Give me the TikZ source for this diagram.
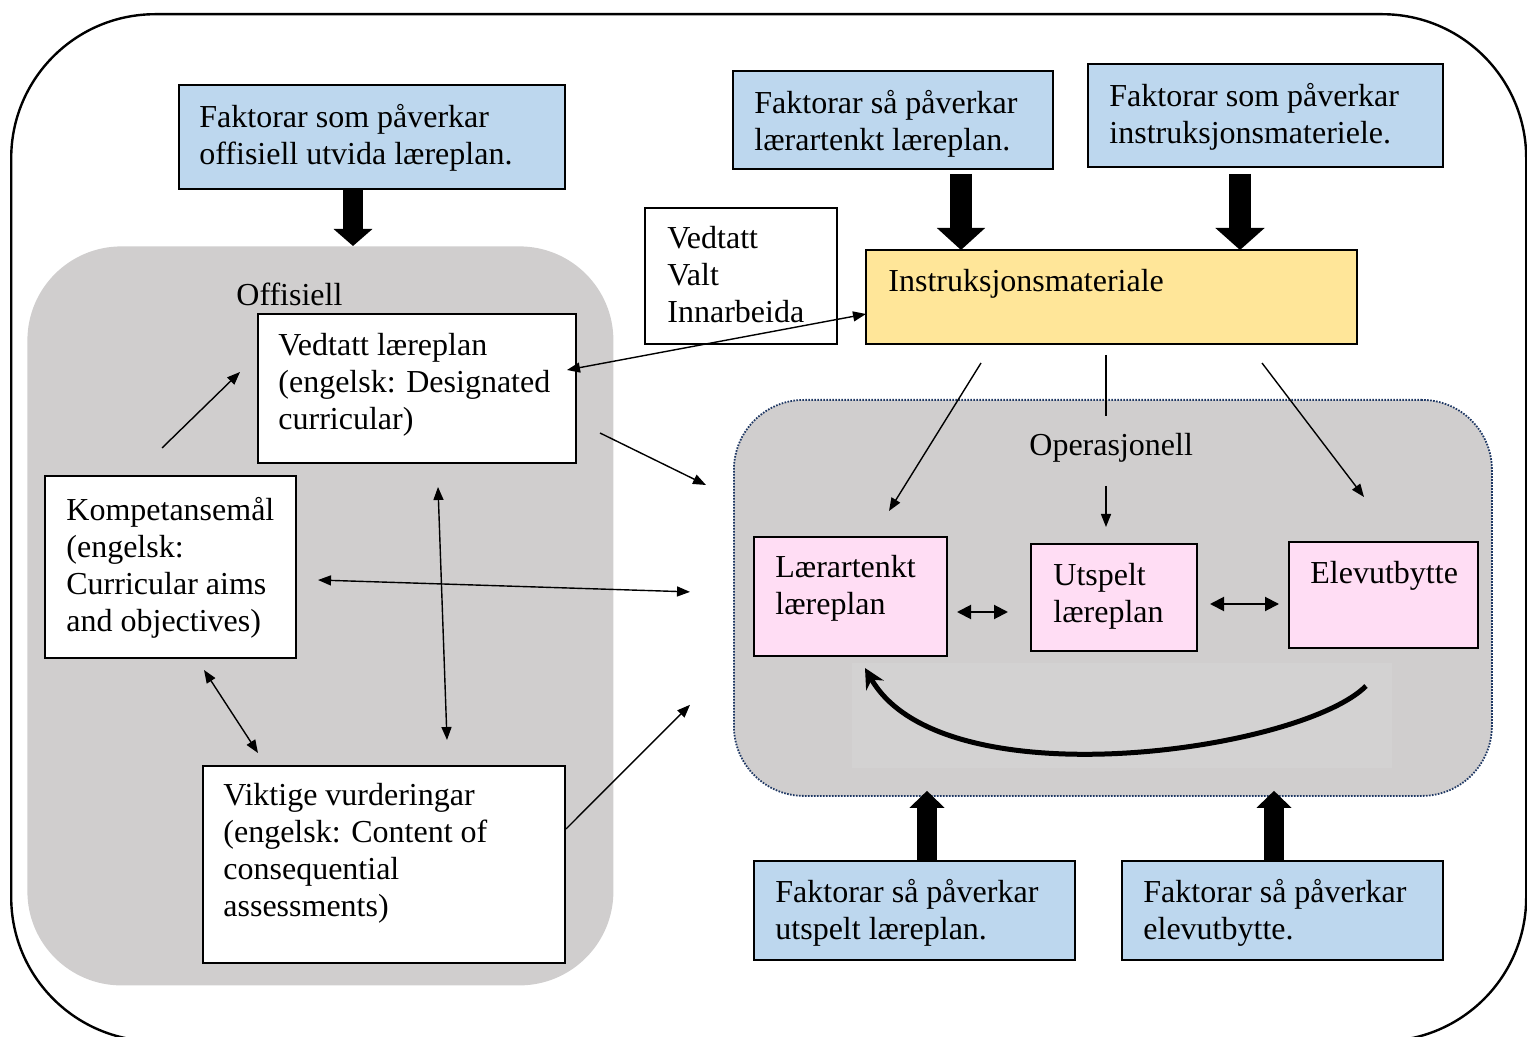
\documentclass[tikz,border=0pt]{standalone}
\usepackage{fontspec}
\setmainfont{Liberation Serif}
\usetikzlibrary{arrows.meta,calc}
\definecolor{bluefill}{HTML}{BDD7EE}
\definecolor{yellowfill}{HTML}{FFE699}
\definecolor{pinkfill}{HTML}{FFDDF4}
\definecolor{grayfill}{HTML}{D0CECE}
\definecolor{pastefill}{HTML}{D3D2D2}
\definecolor{dotblue}{HTML}{1F3864}
\begin{document}
\begin{tikzpicture}[x=0.5pt,y=-0.5pt,
  font=\fontsize{16}{18.5}\selectfont,
  box/.style={draw=black, line width=0.6pt, anchor=north west, inner sep=0pt, outer sep=0pt},
  bluebox/.style={box, fill=bluefill},
  whitebox/.style={box, fill=white},
  pinkbox/.style={box, fill=pinkfill},
  txt/.style={anchor=north west, inner sep=0pt, align=left},
  thinline/.style={line width=0.7pt},
  onehead/.style={line width=0.7pt, -{Triangle[length=6.5pt,width=5pt]}},
  twohead/.style={line width=0.7pt, {Triangle[length=6.5pt,width=5pt]}-{Triangle[length=6.5pt,width=5pt]}},
  boldtwo/.style={line width=1pt, {Triangle[length=7pt,width=7pt]}-{Triangle[length=7pt,width=7pt]}},
  fat/.style n args={3}{line width=#1, -{Triangle[width=#2,length=#3]}},
]
\useasboundingbox (0,0) rectangle (1527,1037);
\begin{scope}
\clip (0,0) rectangle (1527,1037);
\node[draw=black, line width=1.2pt, rounded corners=72pt, anchor=north west, inner sep=0pt,
  minimum width=757.5pt, minimum height=513.5pt] (frame) at (10,13) {};
\end{scope}

% regions
\node[fill=grayfill, rounded corners=47pt, anchor=north west, inner sep=0pt,
  minimum width=293pt, minimum height=369.5pt] (offi) at (27,246) {};
\node[fill=grayfill, draw=dotblue, line width=0.9pt, dash pattern=on 0.8pt off 0.7pt,
  rounded corners=35pt, anchor=north west, inner sep=0pt,
  minimum width=379pt, minimum height=198pt] (oper) at (733,399) {};
\node[fill=pastefill, anchor=north west, inner sep=0pt,
  minimum width=270pt, minimum height=52.5pt] (pastebg) at (852,663) {};

\node[txt] (offlabel) at (236,279) {\strut Offisiell};
\node[txt] (oplabel) at (1029,429) {\strut Operasjonell};

% boxes
\node[bluebox, minimum width=193pt, minimum height=52pt] (f1) at (179,85) {};
\node[txt] (f1t) at (199,101) {\strut Faktorar som påverkar\\offisiell utvida læreplan.};
\node[bluebox, minimum width=160pt, minimum height=49pt] (f2) at (733,71) {};
\node[txt] (f2t) at (754,87) {\strut Faktorar så påverkar\\lærartenkt læreplan.};
\node[bluebox, minimum width=177.5pt, minimum height=51.5pt] (f3) at (1088,64) {};
\node[txt] (f3t) at (1109,80) {\strut Faktorar som påverkar\\instruksjonsmateriele.};
\node[bluebox, minimum width=160.5pt, minimum height=49.5pt] (f4) at (754,861) {};
\node[txt] (f4t) at (775,876) {\strut Faktorar så påverkar\\utspelt læreplan.};
\node[bluebox, minimum width=160.5pt, minimum height=49.5pt] (f5) at (1122,861) {};
\node[txt] (f5t) at (1143,876) {\strut Faktorar så påverkar\\elevutbytte.};

\node[whitebox, minimum width=159pt, minimum height=74.5pt] (ved) at (258,314) {};
\node[txt] (vedt) at (278,329) {\strut Vedtatt læreplan\\(engelsk: Designated\\curricular)};
\node[whitebox, minimum width=125.5pt, minimum height=91pt] (komp) at (45,476) {};
\node[txt] (kompt) at (66,494) {\strut Kompetansemål\\(engelsk:\\Curricular aims\\and objectives)};
\node[whitebox, minimum width=181pt, minimum height=98.5pt] (vik) at (203,766) {};
\node[txt] (vikt) at (223,779) {\strut Viktige vurderingar\\(engelsk: Content of\\consequential\\assessments)};
\node[whitebox, minimum width=96pt, minimum height=68pt] (vvi) at (645,208) {};
\node[txt] (vvit) at (667,222) {\strut Vedtatt\\Valt\\Innarbeida};
\node[box, fill=yellowfill, minimum width=245.5pt, minimum height=47pt] (instr) at (866,250) {};
\node[txt] (instrt) at (888,265) {\strut Instruksjonsmateriale};

\node[pinkbox, minimum width=96.5pt, minimum height=59.5pt] (laer) at (754,537) {};
\node[txt] (laert) at (775,551) {\strut Lærartenkt\\læreplan};
\node[pinkbox, minimum width=83pt, minimum height=53.5pt] (uts) at (1031,544) {};
\node[txt] (utst) at (1053,559) {\strut Utspelt\\læreplan};
\node[pinkbox, minimum width=94.5pt, minimum height=53pt] (elev) at (1289,542) {};
\node[txt] (elevt) at (1310,557) {\strut Elevutbytte};

% fat arrows
\draw[fat={10pt}{19pt}{8.5pt}] ([xshift=-9.5pt]f1.south) -- ([xshift=-9.5pt]f1.south |- offi.north);
\draw[fat={11pt}{23.5pt}{11pt}, shorten <=2.5pt] ([xshift=34pt]f2.south) -- ([xshift=34pt]f2.south |- instr.north);
\draw[fat={11pt}{24pt}{11pt}, shorten <=3.5pt] ([xshift=-12.75pt]f3.south) -- ([xshift=-12.75pt]f3.south |- instr.north);
\draw[fat={10pt}{17pt}{8.5pt}, shorten >=-3pt] ([xshift=6.25pt]f4.north) -- ([xshift=6.25pt]f4.north |- oper.south);
\draw[fat={10pt}{17pt}{8.5pt}, shorten >=-3pt] ([xshift=-4.25pt]f5.north) -- ([xshift=-4.25pt]f5.north |- oper.south);

% thin connectors in Offisiell
\draw[onehead] ($(komp.north west)+(117,-28)$) -- ($(ved.north west)+(-18,58)$);
\draw[twohead] ($(ved.north east)+(-9,56)$) -- ($(instr.south west)+(0,-30)$);
\draw[onehead] ($(ved.south east)+(24,-30)$) -- ($(oper.north west)+(-27,86)$);
\draw[twohead] ($(ved.south)+(21,24)$) -- ($(vik.north)+(63,-26)$);
\draw[twohead] ($(komp.east)+(22,13)$) -- ($(oper.west)+(-43,-6)$);
\draw[twohead] ($(komp.south)+(33.5,12)$) -- ($(vik.north west)+(55,-13)$);
\draw[onehead] ($(vik.north east)+(1,63)$) -- ($(oper.south west)+(-43,-92)$);

% from Instruksjonsmateriale
\draw[onehead] ($(instr.south west)+(115,19)$) -- ($(laer.north west)+(135,-26)$);
\draw[thinline] ($(instr.south)+(-5.5,11)$) -- ($(instr.south)+(-5.5,72)$);
\draw[onehead] ($(uts.north)+(-8,-58)$) -- ($(uts.north)+(-8,-17)$);
\draw[onehead] ($(instr.south east)+(-95,19)$) -- ($(elev.north west)+(75,-45)$);

% inside Operasjonell
\draw[boldtwo] ($(laer.east)+(10,15.5)$) -- ($(uts.west)+(-23,14.5)$);
\draw[boldtwo] ($(uts.east)+(13,6.5)$) -- ($(elev.west)+(-10,9)$);
\draw[line width=2.5pt, -{Stealth[length=10pt,width=10pt]}]
  ($(elev.south)+(-17.5,38)$) .. controls +(-65,65) and +(77,135) .. ($(laer.south)+(14.5,12)$);
\end{tikzpicture}
\end{document}
